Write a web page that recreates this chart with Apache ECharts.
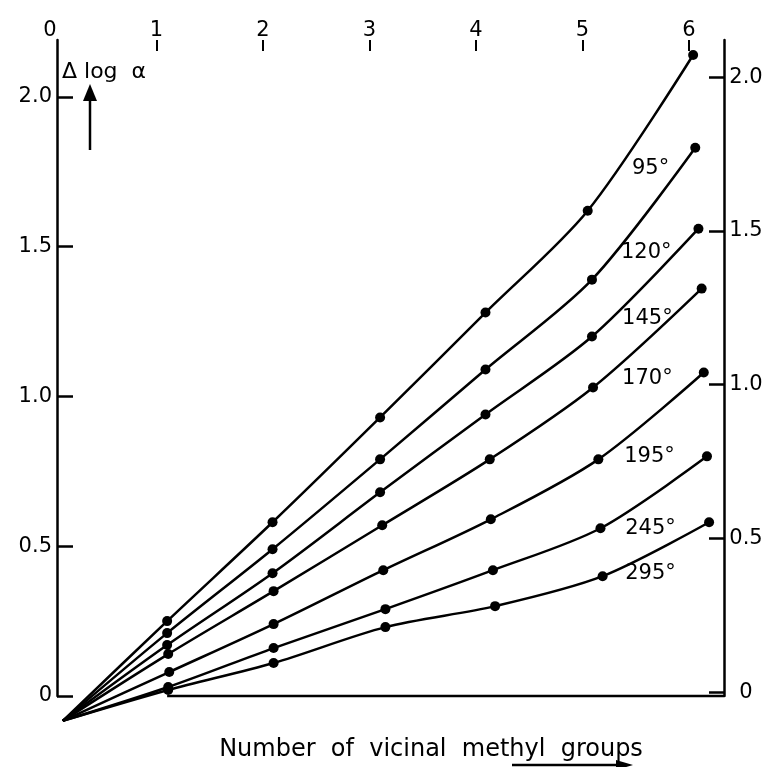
<!DOCTYPE html>
<html><head><meta charset="utf-8">
<script src="https://cdn.jsdelivr.net/npm/echarts@6/dist/echarts.min.js"></script>
<style>html,body{margin:0;padding:0;background:#fff}#c{width:768px;height:767px}</style>
</head><body><div id="c"></div>
<script>
// ---- data ----
const xTicks = [0, 1, 2, 3, 4, 5, 6];
const yTicks = [0, 0.5, 1.0, 1.5, 2.0];
const curveNames = ['95°', '120°', '145°', '170°', '195°', '245°', '295°'];
const origin = [0.12, -0.083];

const x95  = [1.10, 2.09, 3.10, 4.09, 5.05, 6.04];
const y95  = [0.25, 0.58, 0.93, 1.28, 1.62, 2.14];
const x120 = [1.10, 2.09, 3.10, 4.09, 5.09, 6.06];
const y120 = [0.21, 0.49, 0.79, 1.09, 1.39, 1.83];
const x145 = [1.10, 2.09, 3.10, 4.09, 5.09, 6.09];
const y145 = [0.17, 0.41, 0.68, 0.94, 1.20, 1.56];
const x170 = [1.11, 2.10, 3.12, 4.13, 5.10, 6.12];
const y170 = [0.14, 0.35, 0.57, 0.79, 1.03, 1.36];
const x195 = [1.12, 2.10, 3.13, 4.14, 5.15, 6.14];
const y195 = [0.08, 0.24, 0.42, 0.59, 0.79, 1.08];
const x245 = [1.11, 2.10, 3.15, 4.16, 5.17, 6.17];
const y245 = [0.03, 0.16, 0.29, 0.42, 0.56, 0.80];
const x295 = [1.11, 2.10, 3.15, 4.18, 5.19, 6.19];
const y295 = [0.02, 0.11, 0.23, 0.30, 0.40, 0.58];

// curve label anchors (data units)
const labelX = [5.64, 5.60, 5.61, 5.61, 5.63, 5.64, 5.64];
const labelY = [1.76, 1.48, 1.26, 1.06, 0.80, 0.56, 0.41];

// ---- chart ----
const FONT = 'DejaVu Sans';
const xMax = 6.33;
const yMaxLeft = 2.19;
const rightMin = -0.0127, rightMax = 2.1206;

const xsAll = [x95, x120, x145, x170, x195, x245, x295];
const ysAll = [y95, y120, y145, y170, y195, y245, y295];

const series = curveNames.map((name, i) => ({
  type: 'line', name: name, xAxisIndex: 0, yAxisIndex: 0,
  clip: false, smooth: 0.3, silent: true, animation: false,
  symbol: 'circle', symbolSize: 10, showSymbol: true,
  lineStyle: { color: '#000', width: 2.5 },
  itemStyle: { color: '#000' },
  data: [{ value: origin, symbol: 'none' }].concat(xsAll[i].map((x, j) => [x, ysAll[i][j]])),
  markPoint: {
    symbol: 'rect', symbolSize: 1, silent: true,
    itemStyle: { color: 'rgba(0,0,0,0)' },
    label: { show: true, position: 'inside', formatter: name, color: '#000', fontSize: 21, fontFamily: FONT },
    data: [{ coord: [labelX[i], labelY[i]] }]
  }
}));

// base line along y = 0 from the first measured point to the right axis
series.push({
  type: 'line', silent: true, animation: false, symbol: 'none', clip: false,
  lineStyle: { color: '#000', width: 2.5 },
  data: [[x95[0], 0], [xMax, 0]]
});

const fmt = v => (v === 0 ? '0' : v.toFixed(1));

const chart = echarts.init(document.getElementById('c'));
chart.setOption({
  backgroundColor: '#fff',
  animation: false,
  grid: { left: 50, right: 44, top: 40, bottom: 71, containLabel: false },
  xAxis: [{
    type: 'value', position: 'top', min: 0, max: xMax,
    axisLine: { show: false, onZero: false },
    axisTick: { show: true, inside: true, length: 11, customValues: xTicks.slice(1), lineStyle: { color: '#000', width: 2 } },
    axisLabel: { show: true, customValues: xTicks, margin: -1, color: '#000', fontSize: 21, fontFamily: FONT },
    splitLine: { show: false }
  }],
  yAxis: [{
    type: 'value', position: 'left', min: 0, max: yMaxLeft, offset: -7,
    axisLine: { show: true, onZero: false, lineStyle: { color: '#000', width: 2.5 } },
    axisTick: { show: true, inside: true, length: 16, customValues: yTicks, lineStyle: { color: '#000', width: 2.5 } },
    axisLabel: { show: true, customValues: yTicks, margin: 5, color: '#000', fontSize: 21, fontFamily: FONT, formatter: fmt },
    splitLine: { show: false }
  }, {
    type: 'value', position: 'right', min: rightMin, max: rightMax,
    axisLine: { show: true, onZero: false, lineStyle: { color: '#000', width: 2.5 } },
    axisTick: { show: true, inside: true, length: 15, customValues: yTicks, lineStyle: { color: '#000', width: 2.5 } },
    axisLabel: { show: true, customValues: yTicks, margin: 22, align: 'center', color: '#000', fontSize: 21, fontFamily: FONT, formatter: fmt },
    splitLine: { show: false }
  }],
  series: series,
  graphic: [
    { type: 'text', left: 62, top: 61, style: { text: 'Δ log  α', fill: '#000', font: '22px "DejaVu Sans"' } },
    { type: 'line', shape: { x1: 90, y1: 150, x2: 90, y2: 96 }, style: { stroke: '#000', lineWidth: 2.5 } },
    { type: 'polygon', shape: { points: [[83, 101], [97, 101], [90, 84]] }, style: { fill: '#000' } },
    { type: 'text', x: 431, y: 750, style: { text: 'Number  of  vicinal  methyl  groups', fill: '#000', font: '24px "DejaVu Sans"', textAlign: 'center', textVerticalAlign: 'middle' } },
    { type: 'line', shape: { x1: 512, y1: 765, x2: 622, y2: 765 }, style: { stroke: '#000', lineWidth: 2.5 } },
    { type: 'polygon', shape: { points: [[616, 760], [633, 765], [616, 770]] }, style: { fill: '#000' } }
  ]
});
</script>
</body></html>
